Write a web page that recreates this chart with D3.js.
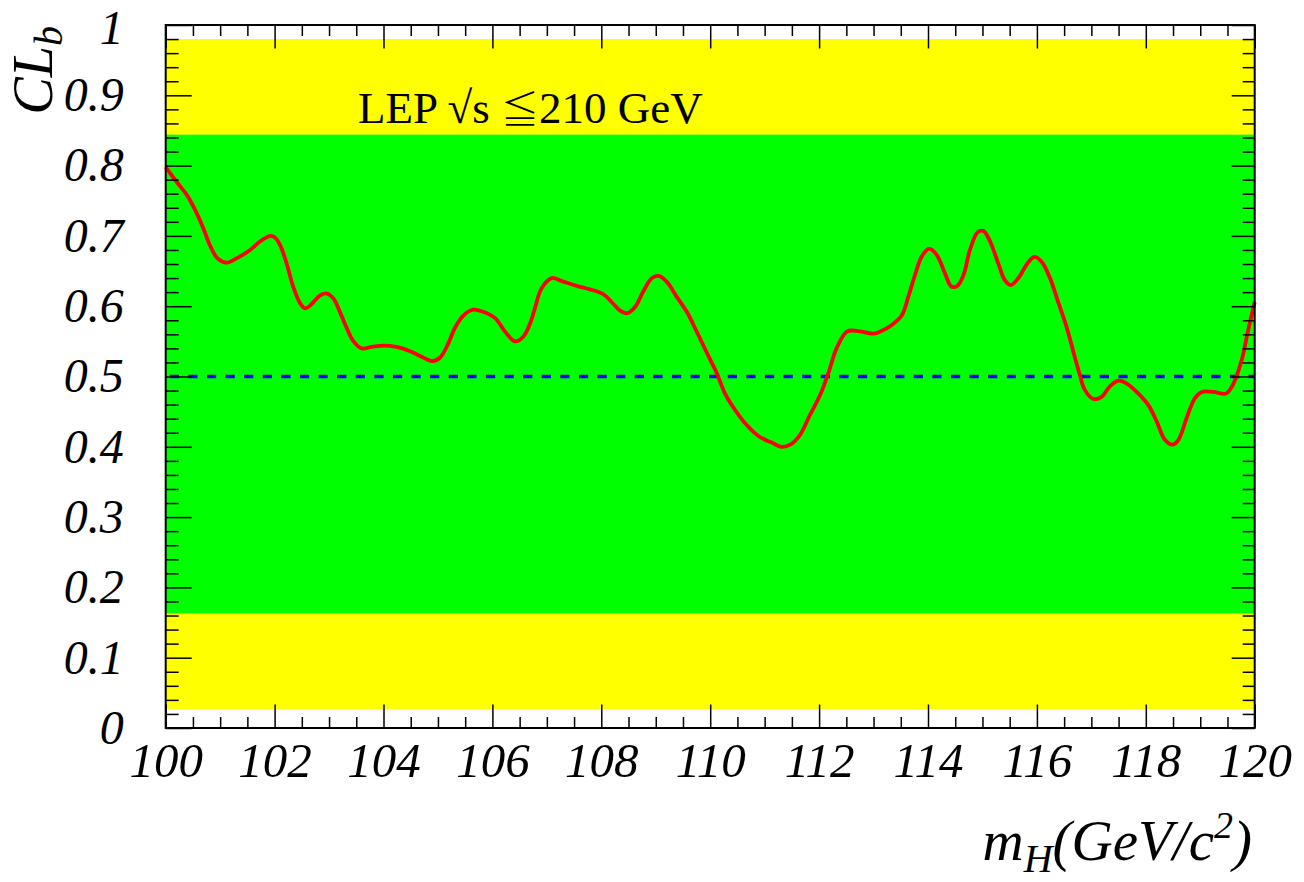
<!DOCTYPE html>
<html>
<head>
<meta charset="utf-8">
<script src="https://cdn.jsdelivr.net/npm/d3@7"></script>
<style>
  html, body { margin: 0; padding: 0; background: #ffffff; }
  svg { display: block; }
</style>
</head>
<body>
<svg id="chart" width="1304" height="882"></svg>
<script>
// ---- data ----
const massValues = [
  100.0, 100.2, 100.39, 100.54, 100.69, 100.81, 100.95, 101.12, 101.3, 101.55,
  101.73, 101.92, 102.0, 102.1, 102.22, 102.34, 102.47, 102.56, 102.68, 102.83,
  102.96, 103.08, 103.22, 103.33, 103.45, 103.6, 103.78, 104.0, 104.24, 104.49,
  104.7, 104.9, 105.04, 105.19, 105.31, 105.47, 105.65, 105.83, 106.05, 106.23,
  106.42, 106.57, 106.69, 106.78, 106.9, 107.09, 107.3, 107.55, 107.79, 108.04,
  108.19, 108.34, 108.47, 108.62, 108.77, 108.93, 109.05, 109.2, 109.38, 109.57,
  109.72, 109.85, 110.0, 110.12, 110.27, 110.46, 110.67, 110.91, 111.13, 111.31,
  111.47, 111.65, 111.83, 112.02, 112.17, 112.32, 112.51, 112.69, 113.0, 113.15,
  113.33, 113.52, 113.64, 113.76, 113.88, 114.02, 114.16, 114.31, 114.43, 114.54,
  114.65, 114.77, 114.91, 115.02, 115.14, 115.29, 115.41, 115.52, 115.66, 115.81,
  115.95, 116.09, 116.24, 116.39, 116.55, 116.67, 116.79, 116.88, 117.04, 117.19,
  117.34, 117.5, 117.65, 117.86, 118.05, 118.2, 118.35, 118.49, 118.6, 118.75,
  118.9, 119.03, 119.24, 119.48, 119.61, 119.76, 119.88, 120.0
];
const clbValues = [
  0.798, 0.777, 0.758, 0.737, 0.711, 0.687, 0.668, 0.662, 0.668, 0.680,
  0.692, 0.700, 0.698, 0.687, 0.661, 0.628, 0.604, 0.597, 0.603, 0.615,
  0.618, 0.611, 0.588, 0.568, 0.550, 0.540, 0.542, 0.544, 0.542, 0.536,
  0.528, 0.522, 0.527, 0.547, 0.569, 0.587, 0.595, 0.592, 0.583, 0.564,
  0.550, 0.557, 0.575, 0.597, 0.625, 0.640, 0.635, 0.629, 0.624, 0.617,
  0.606, 0.594, 0.590, 0.599, 0.621, 0.640, 0.643, 0.635, 0.614, 0.592,
  0.569, 0.548, 0.524, 0.505, 0.476, 0.452, 0.431, 0.414, 0.406, 0.400,
  0.403, 0.417, 0.445, 0.474, 0.505, 0.540, 0.564, 0.565, 0.561, 0.565,
  0.573, 0.587, 0.614, 0.644, 0.670, 0.682, 0.673, 0.647, 0.628, 0.629,
  0.644, 0.680, 0.705, 0.707, 0.692, 0.661, 0.637, 0.630, 0.640, 0.659,
  0.670, 0.663, 0.640, 0.606, 0.569, 0.535, 0.502, 0.481, 0.468, 0.471,
  0.486, 0.494, 0.490, 0.476, 0.459, 0.436, 0.410, 0.403, 0.410, 0.441,
  0.469, 0.478, 0.478, 0.476, 0.490, 0.523, 0.566, 0.606
];
const band2Sigma = [0.027, 0.980];   // yellow band
const band1Sigma = [0.163, 0.844];   // green band
const medianLine = [0.5];

const xTickValues = [100, 102, 104, 106, 108, 110, 112, 114, 116, 118, 120];
const xTickLabels = ["100", "102", "104", "106", "108", "110", "112", "114", "116", "118", "120"];
const yTickValues = [0, 0.1, 0.2, 0.3, 0.4, 0.5, 0.6, 0.7, 0.8, 0.9, 1];
const yTickLabels = ["0", "0.1", "0.2", "0.3", "0.4", "0.5", "0.6", "0.7", "0.8", "0.9", "1"];
const annotationParts = ["LEP \u221As ", "\u2266", "210 GeV"];

// ---- layout ----
const svg = d3.select("#chart");
const pLeft = 165.7, pRight = 1254.7, pTop = 25, pBottom = 728;

const x = d3.scaleLinear().domain([100, 120]).range([pLeft, pRight]);
const y = d3.scaleLinear().domain([0, 1]).range([pBottom, pTop]);

const g = svg.append("g");

// bands
g.append("rect")
  .attr("x", x(100)).attr("width", x(120) - x(100))
  .attr("y", y(band2Sigma[1])).attr("height", y(band2Sigma[0]) - y(band2Sigma[1]))
  .attr("fill", "#ffff00");
g.append("rect")
  .attr("x", x(100)).attr("width", x(120) - x(100))
  .attr("y", y(band1Sigma[1])).attr("height", y(band1Sigma[0]) - y(band1Sigma[1]))
  .attr("fill", "#00ff00");

// median dashed line
g.selectAll("line.median").data(medianLine).enter().append("line")
  .attr("class", "median")
  .attr("x1", x(100) + 4).attr("x2", x(120))
  .attr("y1", d => y(d)).attr("y2", d => y(d))
  .attr("stroke", "#0000ff").attr("stroke-width", 3.6)
  .attr("stroke-dasharray", "9.3,9.3");

// observed curve
const pts = massValues.map((m, i) => [m, clbValues[i]]);
const line = d3.line().x(d => x(d[0])).y(d => y(d[1])).curve(d3.curveCatmullRom.alpha(0.5));
g.append("path")
  .datum(pts)
  .attr("d", line)
  .attr("fill", "none")
  .attr("stroke", "#ff0000")
  .attr("stroke-width", 3.8)
  .attr("stroke-linejoin", "round");

// ---- axes ----
const xMinor = d3.range(100, 120.001, 0.5).filter(v => Math.abs(v / 2 - Math.round(v / 2)) > 1e-6);
const yMinor = d3.range(0, 1.0001, 0.02).filter(v => Math.abs(v * 10 - Math.round(v * 10)) > 1e-6);

const labelFont = "'Liberation Serif', 'Times New Roman', serif";

function styleAxis(sel) {
  sel.select(".domain").remove();
  sel.selectAll(".tick line").attr("stroke", "#000").attr("stroke-width", 1.5);
}

// bottom
g.append("g").attr("transform", `translate(0,${pBottom})`)
  .call(d3.axisBottom(x).tickValues(xMinor).tickSize(-11).tickFormat(""))
  .call(styleAxis);
g.append("g").attr("transform", `translate(0,${pBottom})`)
  .call(d3.axisBottom(x).tickValues(xTickValues).tickSize(-23.5).tickPadding(14)
        .tickFormat((d, i) => xTickLabels[i]))
  .call(styleAxis)
  .call(s => s.selectAll("text")
    .attr("font-family", labelFont).attr("font-style", "italic")
    .attr("font-size", 49).attr("fill", "#000"));

// top
g.append("g").attr("transform", `translate(0,${pTop})`)
  .call(d3.axisTop(x).tickValues(xMinor).tickSize(-11).tickFormat(""))
  .call(styleAxis);
g.append("g").attr("transform", `translate(0,${pTop})`)
  .call(d3.axisTop(x).tickValues(xTickValues).tickSize(-23.5).tickFormat(""))
  .call(styleAxis);

// left
g.append("g").attr("transform", `translate(${pLeft},0)`)
  .call(d3.axisLeft(y).tickValues(yMinor).tickSize(-13).tickFormat(""))
  .call(styleAxis);
g.append("g").attr("transform", `translate(${pLeft},0)`)
  .call(d3.axisLeft(y).tickValues(yTickValues).tickSize(-26).tickPadding(42)
        .tickFormat((d, i) => yTickLabels[i]))
  .call(styleAxis)
  .call(s => s.selectAll("text")
    .attr("font-family", labelFont).attr("font-style", "italic")
    .attr("font-size", 48).attr("fill", "#000")
    .attr("dy", (d) => d === 1 ? "0.38em" : "0.32em"));

// right
g.append("g").attr("transform", `translate(${pRight},0)`)
  .call(d3.axisRight(y).tickValues(yMinor).tickSize(-12).tickFormat(""))
  .call(styleAxis);
g.append("g").attr("transform", `translate(${pRight},0)`)
  .call(d3.axisRight(y).tickValues(yTickValues).tickSize(-23).tickFormat(""))
  .call(styleAxis);

// frame
g.append("rect")
  .attr("x", pLeft).attr("y", pTop)
  .attr("width", pRight - pLeft).attr("height", pBottom - pTop)
  .attr("fill", "none").attr("stroke", "#000").attr("stroke-width", 2);

// annotation
const ann = g.append("text")
  .attr("x", 358).attr("y", 122.5)
  .attr("font-family", labelFont).attr("font-size", 45).attr("fill", "#000");
ann.append("tspan").text(annotationParts[0]);
ann.append("tspan").attr("font-family", "'Noto Sans CJK JP', 'DejaVu Sans', sans-serif")
  .attr("font-size", 38).attr("font-weight", 300).text(annotationParts[1]);
ann.append("tspan").text(annotationParts[2]);

// x title
const xt = g.append("text")
  .attr("x", 1252).attr("y", 860)
  .attr("text-anchor", "end")
  .attr("font-family", labelFont).attr("font-style", "italic")
  .attr("font-size", 57).attr("fill", "#000");
xt.append("tspan").text("m");
xt.append("tspan").attr("font-size", 40).attr("dy", 12).text("H");
xt.append("tspan").attr("dy", -12).text("(GeV/c");
xt.append("tspan").attr("font-size", 38).attr("dy", -22).text("2");
xt.append("tspan").attr("dy", 22).text(")");

// y title
const yt = g.append("text")
  .attr("transform", "translate(52,26) rotate(-90)")
  .attr("text-anchor", "end")
  .attr("font-family", labelFont).attr("font-style", "italic")
  .attr("font-size", 56).attr("fill", "#000");
yt.append("tspan").text("CL");
yt.append("tspan").attr("font-size", 40).attr("dy", 10).text("b");
</script>
</body>
</html>
